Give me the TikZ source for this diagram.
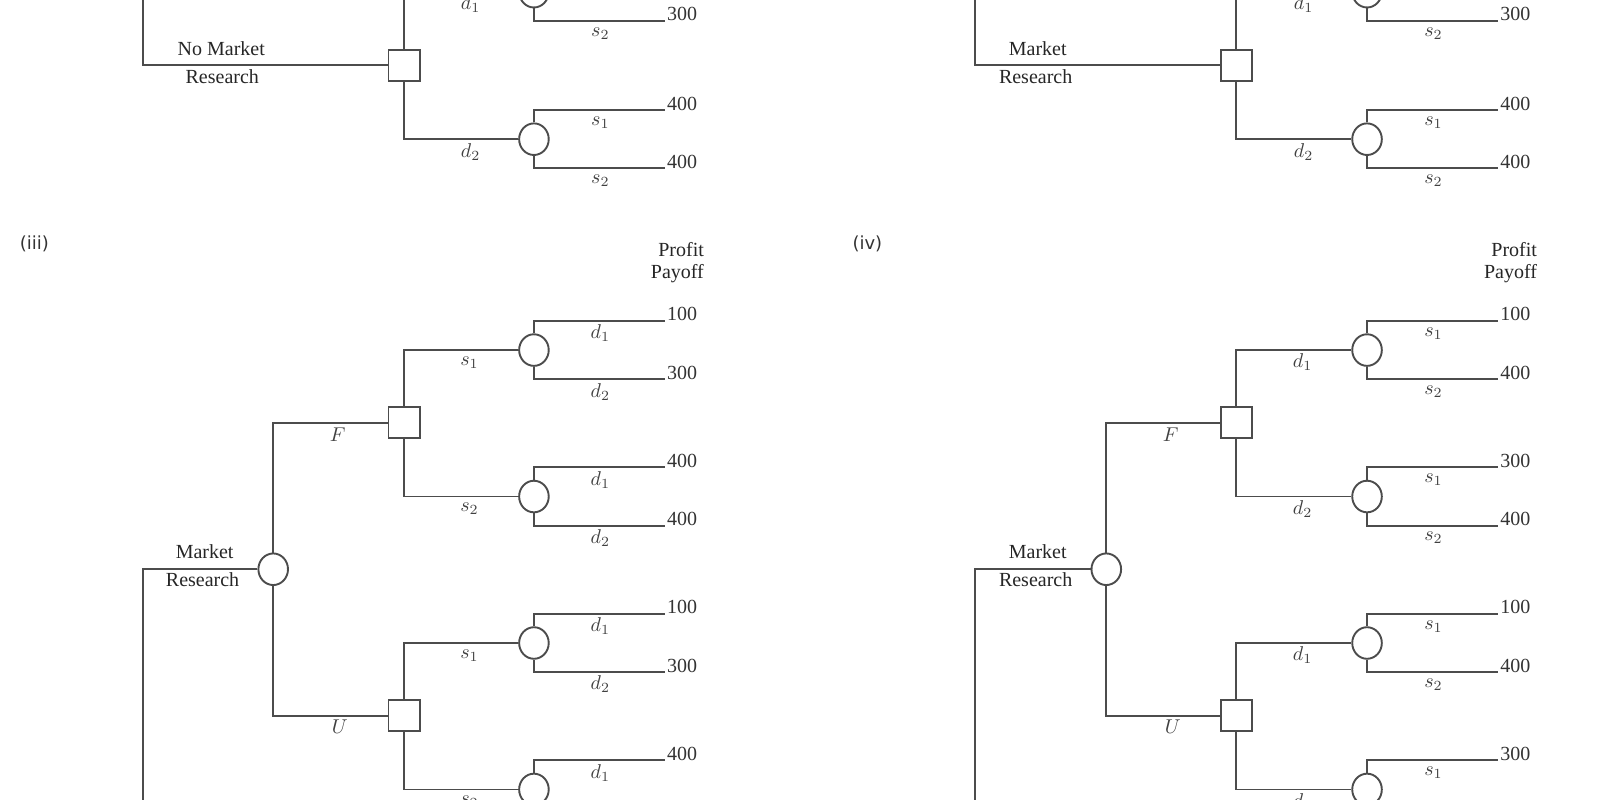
\documentclass[tikz,border=0pt]{standalone}
\usepackage{fontspec}
\setmainfont{Liberation Serif}
\newfontfamily\lblfont{DejaVu Sans}
\usetikzlibrary{shapes.geometric}
\tikzset{
 ln/.style={draw=black!70,line width=0.95pt},
 chance/.style={ellipse,draw=black!70,line width=0.95pt,fill=white,minimum width=14.8pt,minimum height=15.8pt,inner sep=0pt},
 dec/.style={rectangle,draw=black!70,line width=0.95pt,fill=white,minimum size=15.6pt,inner sep=0pt},
 val/.style={anchor=base west,inner sep=1pt,font=\fontsize{10}{12}\selectfont,text=black!80},
 br/.style={font=\fontsize{10}{12}\selectfont,text=black!75,inner sep=0pt},
 txt/.style={font=\fontsize{10}{12}\selectfont,text=black!85,inner sep=0pt,align=center},
}
% name, x, y, label1, val1, label2, val2
\newcommand\chnode[7]{%
 \node[chance] (#1) at (#2,-#3) {};
 \coordinate (#1a) at (#2,-#3+28); \coordinate (#1b) at (#2+126,-#3+28);
 \coordinate (#1c) at (#2,-#3-28); \coordinate (#1d) at (#2+126,-#3-28);
 \draw[ln] (#1.north) -- (#1a) -- (#1b);
 \draw[ln] (#1.south) -- (#1c) -- (#1d);
 \node[val] at (#1b) {#5};
 \node[val] at (#1d) {#7};
 \node[br] at (#2+64,-#3+16) {#4};
 \node[br] at (#2+64,-#3-40) {#6};
}
\begin{document}
\begin{tikzpicture}[x=0.5195pt,y=0.5195pt]
\useasboundingbox (0,0) rectangle (1560.5,-769.5);
% ---------- top left ----------
\node[dec] (TLb) at (389,-63) {};
\draw[ln] (138,0) -- (138,-63) -- (TLb.west);
\node[txt] at (213,-47) {No Market};
\node[txt] at (214,-74) {Research};
\chnode{TLc1}{514}{-8}{}{}{$s_2$}{300}
\chnode{TLc2}{514}{134}{$s_1$}{400}{$s_2$}{400}
\draw[ln] (TLb.north) |- (TLc1.west);
\draw[ln] (TLb.south) |- (TLc2.west);
\node[br] at (453,-4) {$d_1$};
\node[br] at (453,-146) {$d_2$};
% ---------- top right ----------
\node[dec] (TRb) at (1190,-63) {};
\draw[ln] (939,0) -- (939,-63) -- (TRb.west);
\node[txt] at (999,-47) {Market};
\node[txt] at (997,-74) {Research};
\chnode{TRc1}{1316}{-8}{}{}{$s_2$}{300}
\chnode{TRc2}{1316}{134}{$s_1$}{400}{$s_2$}{400}
\draw[ln] (TRb.north) |- (TRc1.west);
\draw[ln] (TRb.south) |- (TRc2.west);
\node[br] at (1255,-4) {$d_1$};
\node[br] at (1255,-146) {$d_2$};
% ---------- bottom left (iii) ----------
\node[font=\lblfont\fontsize{9}{11}\selectfont,text=black!80] at (33,-235) {(iii)};
\node[txt,anchor=east] at (678,-240) {Profit};
\node[txt,anchor=east] at (678,-263) {Payoff};
\node[chance] (BLr) at (263,-548) {};
\draw[ln] (138,-780) -- (138,-548) -- (BLr.west);
\node[txt] at (197,-531) {Market};
\node[txt] at (195,-558) {Research};
\node[dec] (BLf) at (389,-407) {};
\node[dec] (BLu) at (389,-689) {};
\draw[ln] (BLr.north) |- (BLf.west);
\draw[ln] (BLr.south) |- (BLu.west);
\node[br] at (325,-418) {$F$};
\node[br] at (327,-700) {$U$};
\chnode{BLc1}{514}{337}{$d_1$}{100}{$d_2$}{300}
\chnode{BLc2}{514}{478}{$d_1$}{400}{$d_2$}{400}
\chnode{BLc3}{514}{619}{$d_1$}{100}{$d_2$}{300}
\chnode{BLc4}{514}{760}{$d_1$}{400}{$d_2$}{}
\draw[ln] (BLf.north) |- (BLc1.west);
\draw[ln] (BLf.south) |- (BLc2.west);
\draw[ln] (BLu.north) |- (BLc3.west);
\draw[ln] (BLu.south) |- (BLc4.west);
\node[br] at (452,-349) {$s_1$};
\node[br] at (452,-490) {$s_2$};
\node[br] at (452,-631) {$s_1$};
\node[br] at (452,-772) {$s_2$};
% ---------- bottom right (iv) ----------
\node[font=\lblfont\fontsize{9}{11}\selectfont,text=black!80] at (835,-235) {(iv)};
\node[txt,anchor=east] at (1480,-240) {Profit};
\node[txt,anchor=east] at (1480,-263) {Payoff};
\node[chance] (BRr) at (1065,-548) {};
\draw[ln] (939,-780) -- (939,-548) -- (BRr.west);
\node[txt] at (999,-531) {Market};
\node[txt] at (997,-558) {Research};
\node[dec] (BRf) at (1190,-407) {};
\node[dec] (BRu) at (1190,-689) {};
\draw[ln] (BRr.north) |- (BRf.west);
\draw[ln] (BRr.south) |- (BRu.west);
\node[br] at (1127,-418) {$F$};
\node[br] at (1129,-700) {$U$};
\chnode{BRc1}{1316}{337}{$s_1$}{100}{$s_2$}{400}
\chnode{BRc2}{1316}{478}{$s_1$}{300}{$s_2$}{400}
\chnode{BRc3}{1316}{619}{$s_1$}{100}{$s_2$}{400}
\chnode{BRc4}{1316}{760}{$s_1$}{300}{$s_2$}{}
\draw[ln] (BRf.north) |- (BRc1.west);
\draw[ln] (BRf.south) |- (BRc2.west);
\draw[ln] (BRu.north) |- (BRc3.west);
\draw[ln] (BRu.south) |- (BRc4.west);
\node[br] at (1254,-349) {$d_1$};
\node[br] at (1254,-490) {$d_2$};
\node[br] at (1254,-631) {$d_1$};
\node[br] at (1254,-772) {$d_2$};
\end{tikzpicture}
\end{document}
